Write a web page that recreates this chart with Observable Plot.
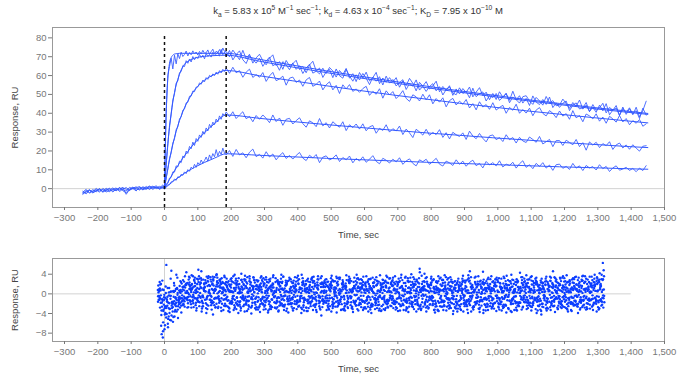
<!DOCTYPE html>
<html><head><meta charset="utf-8">
<script src="https://cdn.jsdelivr.net/npm/d3@7"></script>
<script src="https://cdn.jsdelivr.net/npm/@observablehq/plot@0.6"></script>
<style>
body{margin:0;background:#fff;font-family:"Liberation Sans",Arial,sans-serif}
svg{display:block}
#title{height:22px;width:692px;position:relative;font-size:9.5px;color:#333}
#title span{position:absolute;left:358px;top:5px;transform:translateX(-50%);white-space:nowrap}
#title sub,#title sup{font-size:70%;line-height:0}
g[aria-label="x-axis label"],g[aria-label="y-axis label"]{fill:#444}
</style></head><body>
<div id="title"><span>k<sub>a</sub> = 5.83 x 10<sup>5</sup> M<sup>−1</sup> sec<sup>−1</sup>; k<sub>d</sub> = 4.63 x 10<sup>−4</sup> sec<sup>−1</sup>; K<sub>D</sub> = 7.95 x 10<sup>−10</sup> M</span></div>
<div id="top"></div>
<div id="bottom"></div>
<script>
// ---------- axes / ticks ----------
const timeDomain = [-336, 1500];
const xTicks = [-300,-200,-100,0,100,200,300,400,500,600,700,800,900,1000,1100,1200,1300,1400,1500];
const sensorDomain = [-10, 85.5];
const yTicksSensorgram = [0,10,20,30,40,50,60,70,80];
const residualDomain = [-9.7, 7.2];
const yTicksResidual = [-8,-4,0,4];
const injectionTimes = [0, 185];
const injectionMarkTop = 81;
const residualBaselineEnd = 1400;

// ---------- sampling of recorded sensorgrams ----------
const baselineStart = -245, baselineStep = 10;
const associationStart = 0, associationStep = 5;
const dissociationStart = 185, dissociationStep = 10;

// ---------- sensorgram data (RU), five analyte concentrations ----------
const baselineA = [-2.6,-1.0,-2.1,-0.5,-1.7,-0.3,-1.9,-0.8,0.2,-1.4,-0.6,0.5,-1.1,-2.2,-0.2,0.8,-0.9,0.3,-0.5,1.2,-0.3,0.6,1.5,-0.1,0.9];
const baselineB = [-1.4,-2.8,-0.9,-1.6,0.1,-1.2,-0.4,-1.8,-0.7,0.4,-1.0,-0.2,0.7,-3.0,-0.5,0.2,1.0,-0.6,0.6,0.1,1.1,-0.4,0.8,0.3,2.0];
const baselineC = [-3.0,-1.5,-0.6,-2.3,-1.1,-0.2,-1.6,0.3,-1.2,-0.5,0.4,-1.5,-0.3,0.6,-0.8,0.1,-1.2,0.9,0.2,-0.4,0.7,1.3,0.0,0.5,1.1];
const baselineD = [-1.8,-0.4,-2.4,-1.3,-0.5,-1.9,0.1,-1.0,-1.6,-0.2,-1.1,0.6,-0.6,-1.3,0.7,-0.1,0.5,1.1,-0.7,0.4,1.4,0.2,0.9,-0.3,0.6];
const baselineE = [-2.3,-1.9,-0.7,-2.0,-1.2,0.0,-1.5,-0.6,-0.1,-1.8,0.1,-0.8,0.4,-0.3,-1.0,0.6,0.0,-0.6,1.0,0.3,-0.2,1.0,0.5,1.2,0.3];

const associationA = [1.2,40.5,60.1,64.8,69.2,63.5,70.8,66.2,71.5,69.0,72.4,70.1,71.2,73.0,70.4,72.2,71.0,73.1,71.6,72.5,70.9,72.8,71.4,73.4,71.8,72.1,73.6,71.2,72.7,74.0,71.5,72.9,72.2,73.8,71.9,74.6,72.8];
const associationB = [0.8,13.0,23.1,33.6,39.2,47.1,50.4,56.0,57.2,61.5,62.1,65.3,64.8,67.9,66.5,68.8,67.2,70.1,68.4,69.9,69.0,71.2,69.6,70.8,68.9,71.7,70.2,71.0,69.8,72.3,70.5,71.4,72.6,70.3,73.9,71.1,72.4];
const associationC = [0.3,5.9,10.2,16.1,19.0,24.2,26.5,31.3,32.8,37.0,38.1,41.6,42.3,45.5,45.9,49.0,49.1,51.8,51.5,53.9,54.0,56.1,55.4,57.6,56.7,58.9,58.0,60.1,59.3,60.9,60.0,61.8,60.7,62.6,61.4,63.3,62.2];
const associationD = [0.6,2.4,2.9,5.6,6.0,8.9,8.8,12.1,11.5,14.6,13.8,17.3,16.5,19.9,18.7,22.4,21.2,24.7,22.9,26.6,25.1,28.5,27.2,30.4,28.9,32.2,30.6,34.1,32.4,35.3,34.0,36.9,35.4,38.6,36.8,39.8,38.6];
const associationE = [-0.2,1.2,2.0,2.1,3.6,3.9,5.1,4.4,6.3,6.0,7.6,7.1,8.9,8.0,10.1,9.2,11.4,10.5,12.9,11.3,13.8,12.6,15.2,13.5,14.9,16.8,14.6,17.9,15.8,18.6,16.9,20.7,17.4,19.8,18.1,21.5,18.9];

const dissociationA = [
72.8,69.9,73.5,71.1,68.4,73.4,68.9,71.3,66.6,69.4,
71.3,67.9,65.7,69.2,71.0,65.3,67.4,63.3,68.0,65.1,
66.3,68.1,63.2,64.8,61.5,65.6,67.6,62.5,60.9,63.9,
61.1,64.3,62.4,59.2,62.7,60.5,63.8,58.6,61.0,56.8,
61.6,58.6,61.8,57.2,58.9,61.7,55.7,58.7,56.4,58.9,
56.5,58.9,53.8,57.2,54.7,58.5,55.9,51.9,56.4,54.4,
56.8,52.9,54.5,57.0,51.4,54.2,52.2,54.6,49.5,52.9,
50.3,53.1,51.1,53.9,48.7,51.2,53.6,49.3,51.2,47.2,
50.5,47.3,51.4,48.5,50.3,46.9,51.7,47.2,45.4,48.8,
49.3,46.5,44.7,48.4,46.6,44.3,48.9,45.5,46.7,44.0,
44.3,47.5,45.2,42.6,45.7,43.7,47.0,42.2,44.3,40.9,
44.6,41.6,42.9,45.3,40.2,43.1,41.6,44.1,38.9,42.5,
40.4,42.9,39.2,43.2,38.1,41.4,46.4];
const dissociationB = [
70.1,73.3,68.3,71.1,73.1,68.4,66.4,70.6,68.6,66.6,
69.2,64.9,67.7,69.8,65.2,66.3,62.8,67.4,65.7,63.1,
66.7,63.3,65.2,61.1,64.0,66.0,61.3,62.3,64.0,59.0,
62.0,63.2,58.9,63.5,59.9,58.6,63.2,59.8,57.0,60.4,
57.7,61.1,58.6,55.2,59.2,57.0,59.4,55.0,59.7,56.0,
57.9,54.5,56.3,57.8,52.6,55.8,54.4,57.7,52.3,54.3,
51.6,54.2,55.7,51.9,54.1,49.7,52.6,54.0,50.8,49.8,
53.5,50.5,51.6,48.2,53.3,48.8,50.4,51.3,46.5,49.4,
48.3,50.5,46.8,48.6,50.7,45.6,48.6,47.1,49.3,45.4,
47.9,44.1,49.2,45.9,44.6,47.3,44.7,48.6,43.0,45.5,
43.1,45.3,46.5,41.4,44.3,45.5,42.3,42.9,45.7,40.9,
43.1,40.5,44.3,41.3,45.1,39.2,41.7,42.8,38.8,43.3,
39.4,42.4,39.7,41.4,37.2,42.7,39.0];
const dissociationC = [
64.0,61.2,64.4,61.5,62.6,59.1,61.8,63.4,59.0,60.5,
59.1,61.6,56.9,59.8,61.7,57.3,58.2,59.7,54.9,58.6,
59.2,56.4,57.6,54.3,57.7,59.0,54.3,55.3,57.1,52.4,
55.1,56.7,52.4,54.8,50.5,55.1,52.9,55.2,51.6,52.9,
51.1,53.1,54.3,49.5,51.6,50.1,53.0,48.0,51.9,49.7,
51.5,47.8,49.6,52.0,47.9,46.3,49.8,48.7,46.5,50.1,
47.1,49.8,45.0,47.8,45.9,48.2,43.4,46.7,47.9,44.4,
46.4,44.8,47.3,42.8,45.1,41.8,46.1,43.3,44.6,42.1,
45.6,41.7,43.1,44.2,40.0,43.1,41.6,44.8,40.0,42.0,
40.1,42.7,38.7,41.7,43.0,39.9,38.6,41.4,40.0,37.7,
41.2,38.5,39.8,36.8,41.4,37.6,38.8,35.5,39.6,38.6,
37.0,39.7,35.8,38.0,34.7,38.4,37.0,35.3,38.8,35.4,
37.2,33.9,36.1,34.7,36.7,33.1,34.4];
const dissociationD = [
40.7,38.1,40.8,37.2,39.1,40.8,37.1,38.3,35.5,38.8,
36.8,39.1,37.3,35.0,39.1,35.6,37.5,33.6,36.8,37.3,
34.3,36.1,37.6,34.5,32.6,36.0,34.9,32.9,37.2,33.3,
35.0,32.2,35.5,33.9,32.6,35.5,30.8,33.9,32.4,34.3,
31.6,34.4,30.7,32.8,33.5,29.4,32.0,30.9,33.9,30.0,
31.8,30.6,33.2,28.7,31.6,29.6,27.1,31.5,30.1,28.4,
31.5,28.3,29.8,28.7,31.3,27.2,29.7,26.4,29.9,28.6,
27.7,29.6,26.1,30.5,27.9,26.5,29.3,26.7,24.8,28.0,
28.5,26.0,27.1,25.0,28.6,26.0,27.1,24.2,27.2,25.3,
24.5,27.4,26.1,24.6,27.7,23.7,24.9,26.1,22.3,25.5,
25.5,22.9,25.7,24.5,23.3,26.1,22.3,24.4,20.4,24.8,
23.1,24.6,21.8,23.9,22.8,24.9,20.8,23.2,24.2,21.6,
23.2,20.9,23.3,21.5,19.9,22.5,22.8];
const dissociationE = [
17.9,20.2,17.1,20.8,17.9,19.0,16.4,19.3,21.0,17.0,
18.2,16.2,19.6,16.8,18.4,15.3,17.5,19.1,16.0,17.6,
15.7,17.6,19.2,16.2,14.9,17.7,16.3,18.1,13.8,16.7,
17.4,15.2,16.2,17.9,14.4,16.5,15.3,17.3,13.7,16.0,
14.7,16.9,14.0,15.6,17.5,14.5,13.2,16.1,15.1,13.6,
15.6,14.2,16.4,12.9,14.7,15.8,13.4,12.1,15.3,14.3,
15.6,12.9,14.4,16.1,13.0,12.0,14.6,13.7,12.3,15.3,
12.9,14.6,11.9,13.9,15.1,12.2,13.4,11.0,14.4,12.6,
13.8,12.1,14.8,11.5,13.0,12.3,14.0,10.9,13.2,14.8,
11.3,12.7,10.6,13.4,11.8,13.8,10.9,12.5,9.7,12.7,
13.0,10.8,11.8,10.2,13.4,10.9,12.1,9.6,12.3,11.0,
11.7,9.9,12.7,10.6,11.8,9.1,11.0,12.1,9.8,10.4,
11.3,9.7,10.7,9.0,10.9,9.6,12.2];

// ---------- fitted 1:1 curves (RU) ----------
const fitTimes = [0,2,4,6,8,10,12,15,20,25,30,35,40,45,50,55,60,70,80,90,100,120,150,185,285,385,485,585,685,785,885,985,1085,1185,1285,1385,1450];
const fitA = [0,20,34,45,53,58.5,62.5,66.5,69.5,70.8,71.4,71.6,71.7,71.8,71.8,71.8,71.8,71.8,71.8,71.8,71.8,71.8,71.8,71.8,68.6,65.5,62.5,59.7,57.0,54.4,51.9,49.6,47.3,45.2,43.1,41.2,39.9];
const fitB = [0,5,10,15,19.8,24,27.8,32.5,40,46,51,55,58,60.7,63,64.5,66,67.5,68.5,69.2,69.7,70.2,70.6,70.8,67.6,64.5,61.6,58.8,56.2,53.6,51.2,48.9,46.7,44.6,42.5,40.6,39.4];
const fitC = [0,2.2,4.4,6.5,8.6,10.7,12.7,15.3,19.6,23.5,27.1,30.4,33.4,36.1,38.5,40.8,42.9,46.4,49.6,52.2,54.3,57.5,60.6,62.7,59.9,57.2,54.6,52.1,49.7,47.5,45.3,43.3,41.3,39.5,37.7,36.0,34.9];
const fitD = [0,0.7,1.4,2.0,2.7,3.3,4.0,4.9,6.5,8.0,9.5,10.9,12.2,13.6,14.9,16.2,17.4,19.7,22.0,24.1,26.0,29.7,34.5,39.1,37.3,35.6,34.0,32.5,31.0,29.6,28.3,27.0,25.8,24.6,23.5,22.4,21.8];
const fitE = [0,0.3,0.6,0.95,1.25,1.55,1.85,2.3,3.0,3.75,4.45,5.1,5.7,6.3,6.9,7.5,8.15,9.25,10.3,11.3,12.2,13.9,16.2,18.5,17.7,16.9,16.1,15.4,14.7,14.0,13.4,12.8,12.2,11.6,11.1,10.6,10.3];

// ---------- residuals (RU), sampled every 5 s from -20 s, ten recorded channels ----------
const residualStart = -20, residualStep = 5;
const residualOffsets = [0, 1, 2, 3, 4, 0.5, 1.5, 2.5, 3.5, 4.5];
const residual1 = [
0.8,-1.2,-6.5,-8.9,-7.2,-4.8,-6.1,-3.9,-5.4,-2.7,-4.6,-1.8,-3.2,-0.6,-2.4,0.9,-1.5,1.8,-0.7,2.3,
0.4,-1.3,2.6,0.9,-0.8,3.1,1.2,-1.9,0.6,2.2,-0.4,1.7,-2.3,0.8,3.4,-0.9,1.5,-1.4,2.0,0.3,
-1.1,2.4,-2.6,0.7,1.9,-0.5,-2.9,1.3,0.2,-1.7,2.8,-0.3,1.1,-2.2,0.5,3.6,-1.0,0.9,-1.8,1.6,
0.1,-2.5,1.4,-0.6,2.1,-1.3,0.8,-3.1,1.7,-0.2,0.6,-1.9,2.5,-0.8,1.0,-2.4,0.3,1.8,-1.1,-0.4,
1.3,-0.7,-2.0,0.9,2.7,-1.5,0.2,-0.9,1.6,-2.8,0.4,1.2,-1.6,2.3,-0.1,-3.3,1.0,-0.5,2.0,-1.2,
0.7,-1.8,1.5,-0.3,2.4,-2.1,0.0,1.1,-1.4,3.0,-0.6,0.9,-2.6,1.4,-0.8,2.2,-1.7,0.5,-0.2,1.9,
-1.0,0.6,-2.7,1.8,0.3,-1.4,2.6,-0.7,1.2,-2.2,0.1,1.7,-1.1,-3.0,0.8,2.1,-0.4,1.3,-1.9,0.4,
2.3,-0.9,0.7,-1.6,1.9,-0.2,-2.4,1.1,0.5,-1.3,3.2,-0.8,0.2,-1.7,2.0,-0.5,1.4,-2.6,0.9,-0.1,
4.1,-1.2,0.6,-0.6,1.8,-2.0,0.3,1.5,-3.4,0.8,-0.4,2.2,-1.5,0.1,1.1,-2.3,0.7,-0.9,2.5,-1.1,
0.4,1.6,-2.1,0.9,-0.3,2.7,-1.4,0.2,-3.6,1.3,0.6,-0.8,1.9,-1.6,0.0,2.4,-1.0,0.8,-2.2,1.5,
-0.6,1.1,-1.9,2.9,0.4,-1.2,0.9,-2.5,1.6,-0.2,0.7,-1.4,2.1,-0.9,0.3,-2.8,1.4,0.2,-1.1,1.8,
0.5,-1.7,2.2,-0.4,1.0,-2.3,0.8,1.9,-1.2,0.1,-3.5,1.5,-0.6,2.6,-1.0,0.6,-1.8,1.2,3.4,-0.7,
1.1,-0.5,-2.1,1.7,0.2,-1.3,2.4,-0.8,0.9,-1.9,1.4,-0.3,2.8,-1.6,0.5,-2.4,1.0,3.1,-1.2,0.4,
1.6,-1.0,2.3,-2.0,0.7,2.9,-1.5,6.3];
const residual2 = [
-0.5,1.1,-3.4,-5.8,-4.2,-2.6,-5.1,-3.0,-4.4,-1.9,-3.6,-1.2,-2.5,0.4,-1.6,1.4,-0.9,2.1,0.2,-1.3,
1.8,-0.2,3.3,0.5,-1.6,1.9,2.8,-0.7,1.4,-1.1,2.5,0.1,-0.6,3.0,1.0,-2.0,2.2,0.6,-0.9,1.3,
2.1,-0.8,0.9,-1.9,3.2,0.3,-1.2,1.8,-2.4,0.6,1.5,-0.5,2.7,-1.5,0.2,1.2,-2.7,0.9,2.3,-0.6,
-1.4,1.6,0.4,-2.2,2.9,-0.3,1.1,-1.6,0.5,2.0,-2.8,0.8,-0.7,1.5,-1.2,3.5,-0.4,0.6,-2.1,1.0,
0.2,2.2,-1.5,0.7,-2.6,1.3,-0.4,2.6,-1.1,0.3,-1.9,1.8,0.5,-0.8,2.1,-1.4,0.9,-2.9,0.4,1.4,
-1.7,0.6,2.5,-0.9,1.2,-2.5,0.8,-0.4,1.9,-1.3,0.5,-3.1,1.6,0.2,-1.0,2.7,-0.6,1.1,-2.0,0.7,
1.5,-1.2,0.3,2.4,-1.8,0.9,-0.5,1.6,-2.6,0.4,2.9,-1.1,0.7,-0.3,1.4,-2.2,0.6,-1.5,2.2,-0.8,
0.3,1.7,-2.1,0.5,-0.9,2.6,-1.4,0.8,-0.1,-2.7,1.2,0.4,-1.6,2.0,-0.7,1.0,-2.3,4.4,-0.4,1.1,
-1.9,0.7,1.5,-0.6,2.3,-1.5,0.2,-2.5,1.1,0.9,-1.2,2.8,-0.4,0.5,-1.8,1.6,-0.9,0.3,-2.7,1.9,
0.6,-1.3,2.0,-0.2,1.1,-2.2,0.7,4.6,-1.0,0.4,-1.7,1.3,-0.6,2.5,-2.4,0.8,0.1,-1.2,1.7,-0.5,
1.2,-2.0,0.5,1.6,-0.8,2.2,-1.6,0.3,-0.4,1.9,-2.9,0.7,1.4,-1.1,0.6,2.4,-1.8,0.2,-0.7,1.3,
-0.3,1.8,-1.4,0.6,2.7,-1.9,0.4,-0.9,1.5,-2.2,0.9,1.1,-0.5,-1.6,2.0,-0.2,1.4,-2.5,0.8,0.3,
2.2,-1.1,0.6,-2.6,1.3,0.4,-0.9,2.6,-1.7,0.8,-0.4,1.9,-2.0,0.5,1.2,-1.3,2.4,-0.6,0.9,-2.2,
0.4,1.7,-0.8,2.6,-1.4,0.9,3.0,-0.3];
const residual3 = [
0.3,-0.9,-1.8,-3.2,-2.5,-1.1,-2.9,-0.4,-1.7,0.6,-2.1,1.0,-0.8,-1.9,0.5,-1.2,1.3,0.2,-0.6,1.7,
0.9,-0.5,1.6,-1.0,2.4,0.2,-1.4,1.2,0.5,-0.8,3.6,-0.3,1.0,-1.7,0.7,1.9,-0.9,2.6,0.1,-1.2,
0.8,1.7,-1.3,0.4,-2.0,2.3,0.6,-0.7,1.4,-1.5,0.3,2.0,-0.9,1.2,-2.3,0.5,1.6,-0.4,-1.7,2.8,
-0.7,0.9,-1.9,1.6,0.2,-1.0,2.3,-2.6,0.7,1.3,-0.5,-1.4,1.9,0.4,-2.0,0.8,-0.3,2.2,-1.5,0.6,
-0.9,1.5,0.3,-1.8,2.0,-0.6,1.1,-2.3,0.5,0.9,-1.2,2.4,-0.4,1.0,-2.7,0.2,1.7,-0.8,0.6,-1.6,
1.4,-0.3,-2.0,0.8,1.7,-1.1,0.4,2.2,-1.8,0.1,-0.7,1.5,-2.4,0.7,2.6,-0.5,0.3,-1.4,1.1,-0.2,
0.5,-1.9,1.3,-0.4,2.1,-1.3,0.7,-2.8,1.0,0.2,-0.9,1.8,-1.6,0.4,1.3,-0.7,2.5,-2.1,0.6,-0.3,
-1.2,0.8,2.0,-1.0,0.3,-2.2,1.5,-0.5,0.9,-1.8,2.4,0.1,-0.8,1.6,-1.3,0.6,-0.2,-2.5,1.2,0.7,
0.9,-0.6,1.7,-2.1,0.5,1.2,-1.4,0.3,2.6,-0.9,0.7,-1.7,1.4,-0.1,-2.4,1.0,0.6,-1.1,1.8,-0.4,
-1.5,0.7,1.1,-0.8,2.3,-1.6,0.2,-0.5,1.6,-2.5,0.9,-0.2,1.9,-1.3,0.4,-3.3,1.2,0.5,-0.9,2.0,
0.6,-1.0,1.8,-0.3,-1.9,1.4,0.3,-2.2,1.1,0.7,-0.6,2.5,-1.4,0.2,1.0,-1.7,0.8,-0.4,2.2,-1.1,
1.3,-0.7,0.4,-1.8,1.9,0.2,-1.2,2.4,-0.5,0.8,-2.0,1.2,0.5,-0.9,1.7,-2.7,0.3,1.5,-1.0,0.6,
-0.4,1.8,-1.5,0.9,-0.2,2.3,-1.8,0.5,1.3,-0.8,-2.3,1.0,0.4,-1.2,2.6,-0.6,0.8,-1.9,1.5,0.2,
-1.1,0.8,1.9,-0.5,-1.7,1.2,0.4,-0.9];
const residual4 = [
-0.4,0.7,-1.1,-2.2,-0.8,-1.6,0.3,-1.0,-2.0,0.4,-0.7,1.1,-1.4,0.2,-0.3,1.5,-0.9,0.6,1.9,-0.5,
1.1,0.3,-0.9,2.0,-0.3,1.4,-1.6,0.8,2.3,-0.6,0.5,-1.2,1.9,0.2,-0.8,2.6,0.4,-1.5,1.2,0.7,
-0.2,1.3,0.5,-1.6,2.5,-0.4,0.9,-2.1,1.1,0.2,-1.0,1.8,-0.6,2.1,-1.4,0.6,-0.1,1.5,-2.2,0.9,
1.2,-1.1,0.3,2.1,-1.7,0.6,-0.4,1.5,-1.2,0.1,2.4,-0.9,0.8,-2.3,1.1,-0.5,1.7,-1.0,0.4,-1.9,
0.7,-0.2,1.9,-1.3,0.4,-0.9,2.3,-1.7,0.6,1.2,-0.5,-2.0,1.4,0.3,-1.1,1.8,-0.7,2.1,-1.4,0.2,
-0.6,1.6,-1.4,0.5,-2.2,0.9,1.3,-0.8,0.2,-1.6,2.0,-0.4,1.0,-1.9,0.3,0.8,-2.6,1.2,-0.3,2.3,
-0.8,0.9,1.6,-1.5,0.2,-0.7,2.0,-1.2,0.6,1.4,-2.3,0.1,-0.6,2.2,-1.0,0.8,-1.8,0.4,1.1,-0.9,
1.6,-1.4,0.1,0.9,-2.0,1.3,-0.3,2.2,-1.6,0.4,-0.9,1.1,-2.1,0.7,2.5,-1.2,0.3,0.9,-1.7,-0.4,
-0.2,2.1,-1.3,0.6,-0.7,1.4,-2.6,0.8,-0.1,1.9,-1.5,0.5,1.0,-0.9,2.3,-1.7,0.2,-0.5,1.2,-2.0,
1.4,-0.4,0.2,-1.9,1.6,0.7,-1.1,2.1,-0.6,0.3,-2.2,1.5,0.8,-1.4,0.1,1.9,-0.8,-2.0,1.0,0.5,
-1.3,0.8,2.3,-0.9,0.4,-1.6,1.2,0.6,-2.3,1.7,-0.2,0.9,-1.2,2.0,-0.5,0.3,-1.9,1.4,0.7,-0.8,
0.9,1.5,-1.8,0.3,-0.6,2.2,-1.3,0.7,-2.5,1.1,0.4,-0.9,1.8,-1.5,0.6,2.6,-0.7,-1.3,1.4,0.1,
-1.6,0.7,1.2,-0.5,1.9,-2.1,0.3,1.0,-0.8,2.2,-1.4,0.6,-0.2,1.7,-2.7,0.9,0.4,2.0,-1.0,0.5,
1.3,-1.8,0.6,2.0,-0.6,1.5,-2.2,0.9];
const residual5 = [
0.6,-0.3,0.9,-1.2,0.2,-0.6,1.2,-0.4,0.5,-1.5,1.0,-0.2,0.7,-0.9,1.4,-0.6,0.3,2.2,-0.1,0.8,
-0.7,1.5,0.2,-1.3,1.0,2.2,-0.5,0.6,-1.9,1.6,0.3,-0.4,2.1,-1.0,0.9,0.1,-1.8,1.3,2.4,-0.3,
0.5,-1.4,1.9,0.6,-0.9,1.2,-1.8,2.6,0.1,-0.7,0.9,-2.2,1.5,0.3,-0.5,2.3,-1.1,0.4,1.0,-1.6,
0.6,2.1,-0.8,-1.4,1.3,0.2,-2.1,0.9,1.8,-0.7,0.4,-1.6,2.0,-0.2,0.9,-1.3,2.7,-0.6,0.3,1.4,
-1.1,0.5,1.6,-0.4,-2.4,1.1,0.6,-0.8,1.9,-1.5,0.2,0.8,-1.0,2.6,-0.6,1.2,-1.9,0.3,-0.5,2.2,
0.3,-0.9,1.1,2.0,-1.6,0.4,-0.3,1.7,-2.1,0.8,1.3,-0.6,0.2,-1.5,2.3,-0.9,0.7,1.6,-2.4,0.5,
1.2,-0.4,-1.6,0.8,1.5,-2.0,0.3,0.9,-0.6,2.3,-1.4,0.6,-2.2,1.0,0.2,-0.8,1.7,-1.2,0.5,2.0,
-0.5,1.1,-1.7,0.4,2.4,-0.9,0.7,-1.3,1.6,0.2,-2.6,0.8,1.3,-0.4,0.6,-1.9,2.1,0.4,-1.0,1.5,
0.7,-1.6,0.3,2.2,-0.8,0.5,-1.9,1.1,0.4,-0.6,1.7,-2.3,0.9,0.2,-1.2,2.5,-0.3,1.0,-1.6,0.6,
1.0,-0.8,2.4,-1.3,0.5,0.2,-2.0,1.4,-0.3,0.8,1.9,-1.5,0.3,-0.7,2.2,-1.1,0.6,-2.6,1.2,0.1,
-0.9,1.6,-0.4,0.7,-2.1,1.2,0.5,-1.0,2.0,-0.6,0.3,-1.8,1.5,0.9,-0.5,-2.4,1.1,0.6,-1.2,2.4,
0.2,-1.2,1.4,0.8,-1.9,0.5,2.3,-0.7,0.3,-1.4,1.7,-0.2,-2.2,1.0,0.7,-0.8,2.0,-1.6,0.4,1.3,
0.8,-1.9,0.4,2.5,-0.7,1.1,-1.2,0.3,-2.1,1.6,0.9,-0.6,1.4,-1.5,0.2,2.2,-0.9,0.6,-1.4,1.8,
-0.3,1.2,-1.6,0.5,2.4,-1.1,0.8,-0.4];
const residual6 = [
-1.6,2.4,-4.3,-7.6,-2.9,5.9,-6.8,-3.1,4.7,-5.7,-2.2,3.9,-4.9,1.6,-3.8,2.8,-2.6,4.4,-1.9,3.3,
-2.8,3.6,-0.9,-3.4,2.9,-1.7,4.6,-2.5,1.3,-3.9,3.2,-1.2,2.5,-4.2,0.6,3.8,-2.9,1.7,-3.5,2.2,
3.4,-2.4,0.9,-3.7,2.6,-1.0,3.9,-3.1,1.9,-2.2,4.1,-0.8,-3.6,2.4,-1.5,3.1,-4.0,1.2,2.8,-2.7,
-3.2,1.8,3.6,-2.0,-0.7,2.9,-3.8,1.4,-2.6,3.4,0.5,-3.0,2.2,-1.6,3.9,-2.5,1.1,-3.5,2.6,-0.9,
2.5,-3.4,1.3,-2.1,3.7,-1.2,-3.9,2.3,0.8,-2.8,3.1,-1.7,2.9,-3.3,1.5,-2.0,3.6,-0.6,-4.4,2.0,
-1.4,3.0,-2.7,1.9,-3.6,2.7,-0.5,3.5,-2.4,1.0,-3.2,2.4,-1.9,3.8,-2.9,0.9,2.6,-3.7,1.6,-2.3,
3.2,-1.8,2.1,-3.3,0.7,3.6,-2.6,1.5,-3.9,2.2,-1.1,3.4,-2.3,0.4,-3.4,2.8,-1.6,3.7,-2.8,1.3,
-2.5,3.3,-1.4,2.5,-3.5,1.2,3.9,-2.2,0.6,-3.1,2.7,-1.9,4.0,-2.7,1.8,-3.6,2.3,5.1,-3.0,1.4,
2.4,-3.6,1.6,-2.2,3.5,-0.7,-3.2,2.6,-1.5,3.1,-2.6,0.8,3.8,-3.4,1.9,-1.2,2.9,-4.1,1.0,-2.4,
-3.0,2.3,-1.0,3.7,-2.5,1.4,-3.9,2.7,0.2,-2.8,3.3,-1.6,2.0,-3.7,1.1,4.5,-2.1,2.6,-3.3,0.9,
3.6,-2.2,1.7,-3.5,2.4,-0.9,3.1,-2.9,1.3,-3.8,2.8,-1.4,3.9,-2.0,0.5,-3.3,2.5,-1.8,3.4,-2.6,
-1.7,3.8,-2.9,1.0,-3.4,2.6,-0.8,3.3,-2.4,1.8,-4.2,2.2,-1.3,3.5,-3.0,1.6,-2.3,4.6,-1.1,2.9,
-3.1,2.0,-1.5,3.6,-2.7,1.3,-3.6,2.8,-0.6,3.2,-2.2,1.9,-3.9,2.4,-1.2,3.7,-2.8,1.1,-2.0,3.5,
2.1,-3.3,3.9,-1.4,-2.7,4.2,-2.4,3.0];
const residual7 = [
1.7,-2.8,-8.2,-3.5,-6.4,-4.1,-1.8,-5.3,-2.4,-4.7,0.6,-3.6,-1.3,-2.8,2.1,-2.0,3.6,-0.8,-2.7,1.5,
3.8,-1.9,2.2,-2.9,4.9,-0.6,-3.6,2.9,-1.2,3.5,-2.4,1.6,-3.2,2.7,-0.9,4.0,-2.6,1.3,3.2,-3.3,
-2.0,3.1,-3.5,1.6,-1.4,3.6,-2.7,2.2,-3.9,1.0,2.9,-2.5,3.7,-1.3,-3.1,2.5,-0.7,3.4,-2.9,1.8,
2.7,-3.7,0.9,3.2,-2.3,1.7,-3.4,2.6,-1.1,3.8,-2.8,1.2,-3.6,2.4,-0.5,3.5,-2.2,1.9,-3.8,3.0,
-2.6,1.6,3.4,-3.1,2.1,-1.5,3.9,-2.7,1.1,-3.5,2.5,-0.8,3.2,-2.4,1.7,-3.7,2.9,-1.6,3.6,-2.0,
2.3,-3.3,1.4,-2.5,3.7,-1.1,2.6,-3.8,0.7,3.3,-2.1,1.9,-3.4,2.8,-1.7,3.1,-2.9,1.2,-1.8,3.9,
-3.4,2.1,-1.2,3.5,-2.7,1.0,-3.6,3.0,-2.0,1.6,-3.1,2.7,-0.7,3.8,-2.5,1.4,-3.3,2.3,-1.5,3.2,
1.9,-2.9,3.6,-1.7,2.4,-3.4,1.5,-2.3,3.3,-1.0,-3.7,2.5,-2.1,3.4,-1.4,2.9,-3.1,0.8,3.7,-2.6,
-2.2,3.4,-3.0,1.8,-1.3,2.8,-3.8,1.2,3.6,-2.5,1.6,-3.3,2.3,-0.9,3.2,-2.7,1.5,-3.5,2.6,-1.8,
3.1,-2.6,1.9,-3.6,2.7,-1.3,3.8,-2.3,1.0,-3.2,2.4,-1.9,3.6,-2.8,1.3,-3.9,2.2,-1.1,3.3,-2.5,
-3.0,2.6,-1.8,3.3,-2.6,1.5,-3.4,2.1,-0.7,3.7,-2.9,1.2,-3.7,2.8,-1.5,3.0,-2.3,4.3,-3.2,1.9,
2.6,-3.1,1.3,-2.4,3.6,-1.6,2.2,-3.9,1.7,-1.0,3.1,-2.7,2.5,-3.4,0.9,3.5,-2.0,1.8,-3.7,2.4,
-2.4,3.3,-2.9,1.5,-1.6,3.8,-2.5,2.1,-3.5,1.0,3.4,-2.1,1.7,-3.2,2.9,-1.4,3.6,-2.7,1.3,-3.0,
3.5,-2.2,1.6,-3.6,2.7,-1.3,3.9,-2.8];
const residual8 = [
-1.2,1.9,-2.6,0.8,-3.9,-1.5,-4.6,0.4,-2.9,-0.6,-3.3,1.2,-1.7,2.6,-0.9,-2.2,1.8,-1.1,2.9,-1.6,
2.0,-2.7,0.7,3.1,-1.6,2.3,-3.0,1.0,2.8,-2.2,0.3,3.4,-1.4,1.7,-2.8,2.4,-0.5,3.0,-2.0,1.1,
-2.5,1.5,2.6,-1.9,0.4,-3.3,2.1,-0.8,3.2,-2.6,1.3,-1.2,2.9,-3.5,0.9,1.9,-2.4,3.3,-1.0,-2.8,
1.4,-2.1,2.8,-3.2,0.6,2.4,-1.5,3.1,-2.7,0.2,-1.8,2.6,-3.4,1.6,2.2,-2.3,0.5,-3.0,2.7,-1.3,
-1.9,2.7,-0.6,3.3,-2.5,1.0,-3.1,2.0,-1.2,2.8,-2.9,0.7,-1.5,3.5,-2.2,1.3,-0.3,-3.2,2.3,1.6,
2.9,-1.4,-3.0,1.7,-0.8,2.5,-2.6,3.2,-1.9,0.5,2.1,-3.3,1.2,-2.1,2.9,-0.6,-2.7,2.4,-1.6,3.1,
-2.3,1.3,2.8,-2.8,1.8,-1.1,3.0,-3.2,0.8,2.3,-1.7,-2.9,2.5,-0.7,1.9,-3.1,2.7,-1.3,0.6,-2.4,
2.6,-2.0,0.9,-2.9,3.1,-0.9,1.6,-3.3,2.2,-1.5,0.4,3.3,-2.5,1.4,-2.1,2.6,-0.8,-3.0,2.0,1.0,
-1.6,2.5,-2.8,1.1,-0.4,3.0,-2.1,2.4,-3.5,0.7,2.8,-1.4,1.7,-2.6,-0.9,3.4,-1.9,0.9,-2.9,2.2,
1.8,-3.1,0.6,2.7,-1.7,-2.5,3.2,-0.6,1.5,-2.7,2.2,0.3,-3.0,1.9,-1.2,2.9,-2.3,1.2,-0.5,3.0,
-2.7,1.0,3.0,-1.5,-2.8,2.1,-0.7,3.5,-2.2,1.2,-3.1,2.6,-1.1,0.6,2.4,-3.4,1.4,-1.8,2.8,-0.4,
1.5,-2.4,2.9,-0.9,-2.7,1.7,3.1,-1.6,0.8,-3.2,2.3,-0.3,1.9,-2.8,0.5,2.7,-1.5,-2.5,3.2,-1.0,
-0.8,3.1,-2.3,1.4,2.6,-3.0,0.7,-1.7,2.9,-2.4,1.1,-0.6,3.3,-2.9,1.6,-1.2,2.5,-3.1,0.9,2.1,
-2.6,2.4,-0.9,3.4,-3.2,1.8,-1.6,4.8];
const residual9 = [
0.9,-1.8,2.7,-0.7,1.5,-2.4,-0.3,3.1,-1.6,2.2,-0.9,3.3,-2.1,0.8,-1.4,2.5,0.2,-2.8,3.5,1.1,
-1.5,2.8,-2.3,1.2,3.6,-0.8,-2.6,2.1,0.5,-3.1,1.8,2.9,-1.9,0.7,-2.7,3.3,-1.1,2.2,0.4,-2.4,
1.9,-0.6,-2.8,3.0,-1.7,1.1,2.7,-2.2,0.3,-3.4,2.4,-1.3,1.6,3.4,-2.6,0.7,-1.8,2.8,-0.9,1.5,
-2.8,3.3,-1.0,1.9,-3.1,0.8,2.9,-2.4,1.3,-0.6,3.2,-2.7,0.9,-1.9,2.5,-3.3,1.7,0.4,-2.1,3.0,
2.2,-2.9,0.5,-1.6,3.0,-0.4,1.8,-3.4,2.6,-1.2,0.8,-2.5,3.4,-0.9,-2.2,2.3,-1.4,3.2,-2.7,0.6,
-0.9,2.4,-3.2,1.4,2.8,-1.9,0.3,-2.6,3.3,-1.1,1.9,-3.0,2.1,-0.4,3.5,-2.3,1.0,-1.7,2.6,-3.1,
2.9,-2.1,1.1,-3.0,2.3,0.6,-1.8,3.1,-2.5,1.4,-0.3,2.6,-3.4,1.8,-1.0,2.2,-2.9,3.4,-1.3,0.5,
-1.8,2.3,-3.2,1.6,0.2,-2.5,2.8,-1.2,3.5,-2.9,1.3,-0.6,2.4,-3.1,1.9,-1.6,3.2,-2.2,0.7,2.6,
3.2,-2.5,1.4,-1.0,2.7,-3.3,0.9,2.2,-1.8,3.3,-2.6,1.0,-0.5,2.9,-3.0,1.5,2.4,-2.1,0.6,-3.6,
-2.3,1.6,3.1,-2.0,0.7,-3.2,2.5,-1.4,1.8,-2.6,3.5,-0.8,-2.2,2.7,-1.5,0.9,-3.4,2.1,1.2,-1.9,
2.4,-3.0,1.5,-0.8,3.2,-2.1,0.6,-2.7,2.6,-1.3,1.8,-3.5,2.9,-0.6,-1.9,2.3,-2.5,1.1,3.4,-1.6,
-1.2,2.9,-2.3,3.4,-0.9,1.3,-3.1,2.0,-1.5,2.7,-2.6,0.9,3.1,-1.8,1.4,-3.3,2.2,-0.4,2.6,-2.8,
1.7,-2.7,3.3,-1.1,0.8,-3.2,2.5,-2.0,1.2,3.0,-1.6,-2.5,2.1,-0.7,3.6,-2.2,1.0,-3.0,2.4,-1.3,
2.8,-1.9,0.6,3.1,-2.9,2.0,-0.8,3.6];
const residual10 = [
-0.6,2.0,-1.4,-0.2,-2.9,1.2,-1.9,0.5,-3.6,1.7,-2.5,0.2,-1.1,2.4,-2.3,0.7,2.0,-1.3,1.0,-2.1,
1.3,2.9,-1.8,0.4,-2.5,3.2,-0.3,1.9,-2.9,2.6,0.8,-1.7,3.5,-2.3,1.5,-0.7,2.8,-2.8,1.0,3.7,
-1.1,2.3,-3.0,1.3,0.5,-2.3,3.1,-1.5,2.0,-2.9,0.9,3.0,-1.9,-0.6,2.6,-2.8,1.6,0.3,-3.2,2.5,
0.8,-1.4,2.5,-2.6,3.4,-0.8,1.2,-3.1,2.1,-1.7,0.4,2.8,-2.4,3.1,-1.0,-2.6,2.3,-1.5,3.3,-2.1,
-3.0,1.1,2.5,-1.7,0.9,-2.8,3.2,-1.3,2.0,-3.5,1.5,-0.6,2.7,-2.2,0.3,3.0,-2.5,1.4,-1.1,2.6,
1.9,-2.4,0.8,3.2,-2.9,1.3,-1.6,2.5,-0.2,-3.3,2.8,-1.1,1.6,-2.7,2.2,0.5,-3.1,3.3,-1.4,1.2,
-2.1,3.0,-1.5,0.9,-3.0,2.4,1.1,-2.3,3.3,-0.9,-1.9,2.1,0.6,-3.5,2.9,-1.2,1.5,-2.6,3.1,-0.5,
2.8,-1.6,-2.7,2.2,-0.6,3.3,-2.0,0.7,-3.4,2.6,-1.3,1.8,-2.6,3.0,0.1,-2.2,1.4,-3.3,2.5,1.6,
-2.8,1.9,-0.8,3.1,-2.3,1.0,2.4,-3.2,0.6,-1.7,2.9,-2.5,3.4,-1.1,0.8,-2.9,2.2,1.3,-3.0,2.6,
1.1,-3.3,2.6,-0.5,-2.1,2.9,-1.6,3.4,-2.8,0.4,-1.8,2.5,-3.1,1.5,2.1,-0.9,-2.7,3.0,-1.4,0.8,
-2.5,2.2,-0.4,2.8,-3.2,1.4,-1.0,3.2,-2.4,0.9,2.6,-2.1,0.3,-3.3,1.8,2.7,-1.7,0.5,-2.8,3.1,
2.1,-1.8,3.0,-2.6,0.7,-1.2,2.7,-3.4,1.2,2.3,-2.0,0.4,-3.0,2.4,-1.6,3.3,0.2,-2.4,1.7,-3.1,
-1.9,2.6,-0.7,3.2,-2.9,0.5,1.8,-3.3,2.3,-1.4,3.5,-2.6,0.8,-1.8,2.7,-0.4,-3.2,2.9,-1.0,1.5,
-2.4,3.1,-1.2,2.2,-3.0,1.6,2.8,-1.7];

// ---------- build tidy tables ----------
const curves = ["A","B","C","D","E"];
const baselines = [baselineA, baselineB, baselineC, baselineD, baselineE];
const associations = [associationA, associationB, associationC, associationD, associationE];
const dissociations = [dissociationA, dissociationB, dissociationC, dissociationD, dissociationE];
const fits = [fitA, fitB, fitC, fitD, fitE];
const residuals = [residual1, residual2, residual3, residual4, residual5, residual6, residual7, residual8, residual9, residual10];

const sensorRows = [];
curves.forEach((c, k) => {
  baselines[k].forEach((v, i) => sensorRows.push({curve: c, t: baselineStart + i * baselineStep, v}));
  associations[k].forEach((v, i) => sensorRows.push({curve: c, t: associationStart + i * associationStep, v}));
  dissociations[k].forEach((v, i) => sensorRows.push({curve: c, t: dissociationStart + i * dissociationStep, v}));
});
const fitRows = [];
curves.forEach((c, k) => fits[k].forEach((v, i) => fitRows.push({curve: c, t: fitTimes[i], v})));
const residualRows = [];
residuals.forEach((arr, k) => arr.forEach((v, i) => residualRows.push({channel: k, t: residualStart + residualOffsets[k] + i * residualStep, v})));

const FONT = '"Liberation Sans", Arial, sans-serif';
const LINE = "#3358ff";
const DOT = "#0b3dff";
const fmt = d3.format(",");
const baseStyle = {fontFamily: FONT, fontSize: "9.5px", color: "#777", background: "#fff", overflow: "visible"};

const sensorChart = Plot.plot({
  width: 692, height: 223,
  marginTop: 5, marginRight: 28, marginBottom: 38, marginLeft: 52,
  style: baseStyle,
  x: {domain: timeDomain},
  y: {domain: sensorDomain},
  marks: [
    Plot.ruleY([0], {stroke: "#d2d2d2"}),
    Plot.line(sensorRows, {x: "t", y: "v", z: "curve", stroke: LINE, strokeWidth: 1, strokeOpacity: 0.85}),
    Plot.line(fitRows, {x: "t", y: "v", z: "curve", stroke: LINE, strokeWidth: 1, curve: "monotone-x"}),
    Plot.ruleX(injectionTimes, {y1: sensorDomain[0], y2: injectionMarkTop, stroke: "#111", strokeWidth: 1.5, strokeDasharray: "3,3"}),
    Plot.frame({stroke: "#999"}),
    Plot.axisX({ticks: xTicks, tickFormat: fmt, tickSize: 3, tickPadding: 4, label: "Time, sec", labelAnchor: "center", labelArrow: "none", labelOffset: 30}),
    Plot.axisY({ticks: yTicksSensorgram, tickFormat: fmt, tickSize: 4, tickPadding: 2, label: "Response, RU", labelAnchor: "center", labelArrow: "none", labelOffset: 41})
  ]
});
document.getElementById("top").appendChild(sensorChart);

const residualChart = Plot.plot({
  width: 692, height: 139,
  marginTop: 13, marginRight: 28, marginBottom: 43, marginLeft: 52,
  style: baseStyle,
  x: {domain: timeDomain},
  y: {domain: residualDomain},
  marks: [
    Plot.ruleY([0], {x1: timeDomain[0], x2: residualBaselineEnd, stroke: "#d2d2d2"}),
    Plot.ruleX([0], {stroke: "#d2d2d2"}),
    Plot.dot(residualRows, {x: "t", y: "v", r: 1.2, fill: DOT, stroke: null}),
    Plot.frame({stroke: "#999"}),
    Plot.axisX({ticks: xTicks, tickFormat: fmt, tickSize: 3, tickPadding: 4, label: "Time, sec", labelAnchor: "center", labelArrow: "none", labelOffset: 30}),
    Plot.axisY({ticks: yTicksResidual, tickFormat: fmt, tickSize: 4, tickPadding: 2, label: "Response, RU", labelAnchor: "center", labelArrow: "none", labelOffset: 41})
  ]
});
document.getElementById("bottom").appendChild(residualChart);
</script>
</body></html>
